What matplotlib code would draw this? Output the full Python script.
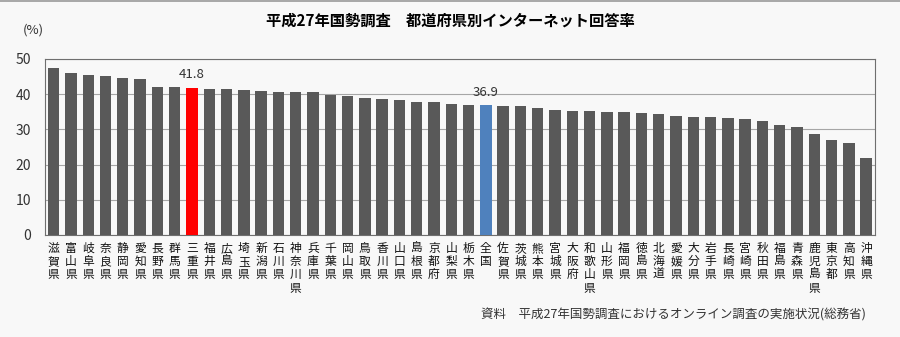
import numpy as np
import matplotlib
matplotlib.use('Agg')
import matplotlib.pyplot as plt

plt.rcParams['font.family'] = ['Noto Sans CJK JP', 'DejaVu Sans']

# ── Data ─────────────────────────────────────────────────────
prefectures = ['滋賀県', '富山県', '岐阜県', '奈良県', '静岡県', '愛知県', '長野県', '群馬県',
               '三重県', '福井県', '広島県', '埼玉県', '新潟県', '石川県', '神奈川県', '兵庫県',
               '千葉県', '岡山県', '鳥取県', '香川県', '山口県', '島根県', '京都府', '山梨県',
               '栃木県', '全国', '佐賀県', '茨城県', '熊本県', '宮城県', '大阪府', '和歌山県',
               '山形県', '福岡県', '徳島県', '北海道', '愛媛県', '大分県', '岩手県', '長崎県',
               '宮崎県', '秋田県', '福島県', '青森県', '鹿児島県', '東京都', '高知県', '沖縄県']
rates = [47.4, 46.0, 45.4, 45.2, 44.6, 44.4, 42.1, 41.9,
         41.8, 41.6, 41.4, 41.2, 41.0, 40.6, 40.6, 40.6,
         39.7, 39.5, 38.9, 38.5, 38.3, 37.8, 37.8, 37.2,
         36.9, 36.9, 36.7, 36.7, 36.1, 35.5, 35.3, 35.1,
         34.9, 34.9, 34.6, 34.3, 33.8, 33.6, 33.4, 33.2,
         33.0, 32.4, 31.3, 30.6, 28.8, 27.0, 26.2, 21.9]
highlight = {'三重県': '#ff0000', '全国': '#4f81bd'}

title = '平成27年国勢調査　都道府県別インターネット回答率'
source = '資料　平成27年国勢調査におけるオンライン調査の実施状況(総務省)'

# ── Plot ─────────────────────────────────────────────────────
bg = '#f8f8f8'
fig = plt.figure(figsize=(9, 3.37), dpi=100, facecolor=bg)
ax = fig.add_axes([0.05, 0.3027, 0.922, 0.5223], facecolor=bg)

x = np.arange(len(prefectures))
colors = [highlight.get(p, '#595959') for p in prefectures]
ax.bar(x, rates, width=0.66, color=colors, zorder=3)

# value labels sit a fixed offset above the highlighted bars
for p, v in zip(prefectures, rates):
    if p in highlight:
        ax.text(prefectures.index(p), v + 3.7, f'{v}',
                ha='center', va='center', fontsize=9.5, color='#333333')

ax.set_xlim(-0.5, len(prefectures) - 0.5)
ax.set_ylim(0, 50)
ax.set_yticks(range(0, 51, 10))
ax.yaxis.grid(True, color='#a6a6a6', lw=0.8, zorder=0)
ax.tick_params(axis='y', length=0, labelsize=10, labelcolor='#333333', pad=10)
ax.tick_params(axis='x', length=0, pad=5)
ax.set_xticks(x)
ax.set_xticklabels(['\n'.join(p) for p in prefectures], fontsize=8.5,
                   linespacing=1.02, va='top', color='#111111')
for s in ax.spines.values():
    s.set_color('#6f6f6f')
    s.set_linewidth(0.8)

fig.text(0.025, 0.91, '(%)', fontsize=9.5, color='#333333', va='center')
fig.text(0.5, 0.94, title, ha='center', va='center', fontsize=11, fontweight='bold')
fig.text(0.962, 0.065, source, ha='right', va='center', fontsize=9, color='#333333')

# top border line of the frame
fig.add_artist(plt.Line2D([0, 1], [0.998, 0.998], color='#9a9a9a', lw=1.2))

plt.savefig('out.png', dpi=100, facecolor=bg)
